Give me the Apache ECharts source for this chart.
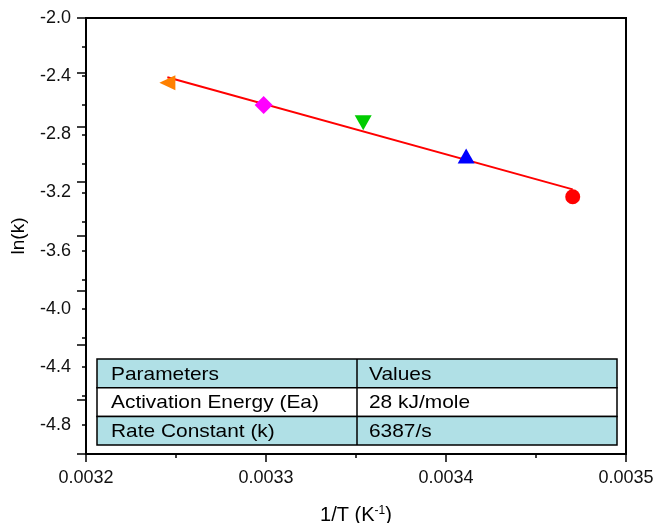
<!DOCTYPE html>
<html>
<head>
<meta charset="utf-8">
<script src="https://cdn.jsdelivr.net/npm/echarts@6/dist/echarts.min.js"></script>
<style>html,body{margin:0;padding:0;background:#fff}#c{width:653px;height:523px}</style>
</head>
<body>
<div id="c"></div>
<script>
// ---- data ----
var invT = [0.0032452, 0.0032987, 0.0033540, 0.0034112, 0.0034704];
var lnK = [-2.445, -2.599, -2.720, -2.950, -3.230];
var fitX = [0.0032452, 0.0034704];
var fitY = [-2.408, -3.179];
var tableHeader = ['Parameters', 'Values'];
var tableRows = [['Activation Energy (Ea)', '28 kJ/mole'], ['Rate Constant (k)', '6387/s']];
var xTicks = [0.0032, 0.0033, 0.0034, 0.0035];
var yLabels = ['-2.0', '-2.4', '-2.8', '-3.2', '-3.6', '-4.0', '-4.4', '-4.8'];

var FONT = 'Arial, "Liberation Sans", sans-serif';
var markerSymbols = ['triangle', 'diamond', 'triangle', 'triangle', 'circle'];
var markerRot = [90, 0, 180, 0, 0];
var markerSize = [[15, 16], [18, 18], [17, 15], [17, 15], 15];
var markerColor = ['#FF8000', '#FF00FF', '#00CC00', '#0000FF', '#FF0000'];

var chart = echarts.init(document.getElementById('c'), null, {renderer: 'canvas'});

var series = [{
  type: 'line', xAxisIndex: 0, yAxisIndex: 0,
  data: fitX.map(function (x, i) { return [x, fitY[i]]; }),
  symbol: 'none', lineStyle: {color: '#FF0000', width: 2}, z: 2, silent: true
}];
invT.forEach(function (x, i) {
  series.push({
    type: 'scatter', xAxisIndex: 0, yAxisIndex: 0,
    data: [[x, lnK[i]]], symbol: markerSymbols[i], symbolRotate: markerRot[i],
    symbolSize: markerSize[i], itemStyle: {color: markerColor[i], opacity: 1}, z: 3
  });
});

// table graphics
var tL = 97, tR = 617, tTop = 359, rowH = 28.7, colX = 357;
var rowsAll = [tableHeader].concat(tableRows);
var graphics = [];
rowsAll.forEach(function (row, r) {
  graphics.push({
    type: 'rect', shape: {x: tL, y: tTop + r * rowH, width: tR - tL, height: rowH},
    style: {fill: r % 2 === 0 ? '#B0E0E6' : '#FFFFFF', stroke: '#000', lineWidth: 1.5}, z: 10
  });
  graphics.push({
    type: 'text', x: tL + 14, y: tTop + r * rowH + rowH / 2 + 1, scaleX: 1.1,
    style: {text: row[0], fontSize: 19, fontFamily: FONT, fill: '#000', verticalAlign: 'middle', align: 'left'}, z: 11
  });
  graphics.push({
    type: 'text', x: colX + 12, y: tTop + r * rowH + rowH / 2 + 1, scaleX: 1.1,
    style: {text: row[1], fontSize: 19, fontFamily: FONT, fill: '#000', verticalAlign: 'middle', align: 'left'}, z: 11
  });
});
graphics.push({
  type: 'line', shape: {x1: colX, y1: tTop, x2: colX, y2: tTop + 3 * rowH},
  style: {stroke: '#000', lineWidth: 1.5}, z: 12
});

function near(v, arr) {
  for (var i = 0; i < arr.length; i++) { if (Math.abs(v - arr[i]) < 1e-9) return true; }
  return false;
}
var yLabelNums = yLabels.map(Number);

chart.setOption({
  animation: false,
  backgroundColor: '#fff',
  grid: {left: 86, right: 27, top: 18, bottom: 69, show: true, borderColor: '#000', borderWidth: 2, backgroundColor: 'transparent', containLabel: false, outerBoundsMode: 'none'},
  xAxis: [{
    type: 'value', min: 0.0032, max: 0.0035, interval: 0.00005,
    name: '1/T (K{sup|-1})', nameLocation: 'middle', nameGap: 51,
    nameTextStyle: {fontSize: 20, fontFamily: FONT, color: '#000', rich: {sup: {fontSize: 12, fontFamily: FONT, color: '#000', verticalAlign: 'top', padding: [0, 0, 8, 0]}}},
    axisLine: {show: true, onZero: false, lineStyle: {color: '#000', width: 2}},
    axisTick: {show: true, inside: false, length: 4, lineStyle: {color: '#000', width: 1.5}},
    axisLabel: {show: true, margin: 15, fontSize: 18, fontFamily: FONT, color: '#111',
      formatter: function (v) { return near(v, xTicks) ? v.toFixed(4) : ''; }},
    splitLine: {show: false}
  }, {
    type: 'value', min: 0.0032, max: 0.0035, interval: 0.0001, position: 'bottom',
    axisLine: {show: false}, axisLabel: {show: false}, splitLine: {show: false},
    axisTick: {show: true, length: 8, lineStyle: {color: '#000', width: 1.5}}
  }],
  yAxis: [{
    type: 'value', min: -5.0, max: -2.0, interval: 0.2,
    name: 'ln(k)', nameLocation: 'middle', nameGap: 58, nameRotate: 90,
    nameTextStyle: {fontSize: 19, fontFamily: FONT, color: '#000'},
    axisLine: {show: true, onZero: false, lineStyle: {color: '#000', width: 2}},
    axisTick: {show: true, inside: false, length: 4, lineStyle: {color: '#000', width: 1.5}},
    axisLabel: {show: true, margin: 15, fontSize: 18, fontFamily: FONT, color: '#111',
      formatter: function (v) { return near(v, yLabelNums) ? v.toFixed(1) : ''; }},
    splitLine: {show: false}
  }, {
    type: 'value', min: -5.2, max: -2.0, interval: 0.4, position: 'left',
    axisLine: {show: false}, axisLabel: {show: false}, splitLine: {show: false},
    axisTick: {show: true, length: 9, lineStyle: {color: '#000', width: 1.5}}
  }],
  series: series,
  graphic: graphics
});
</script>
</body>
</html>
